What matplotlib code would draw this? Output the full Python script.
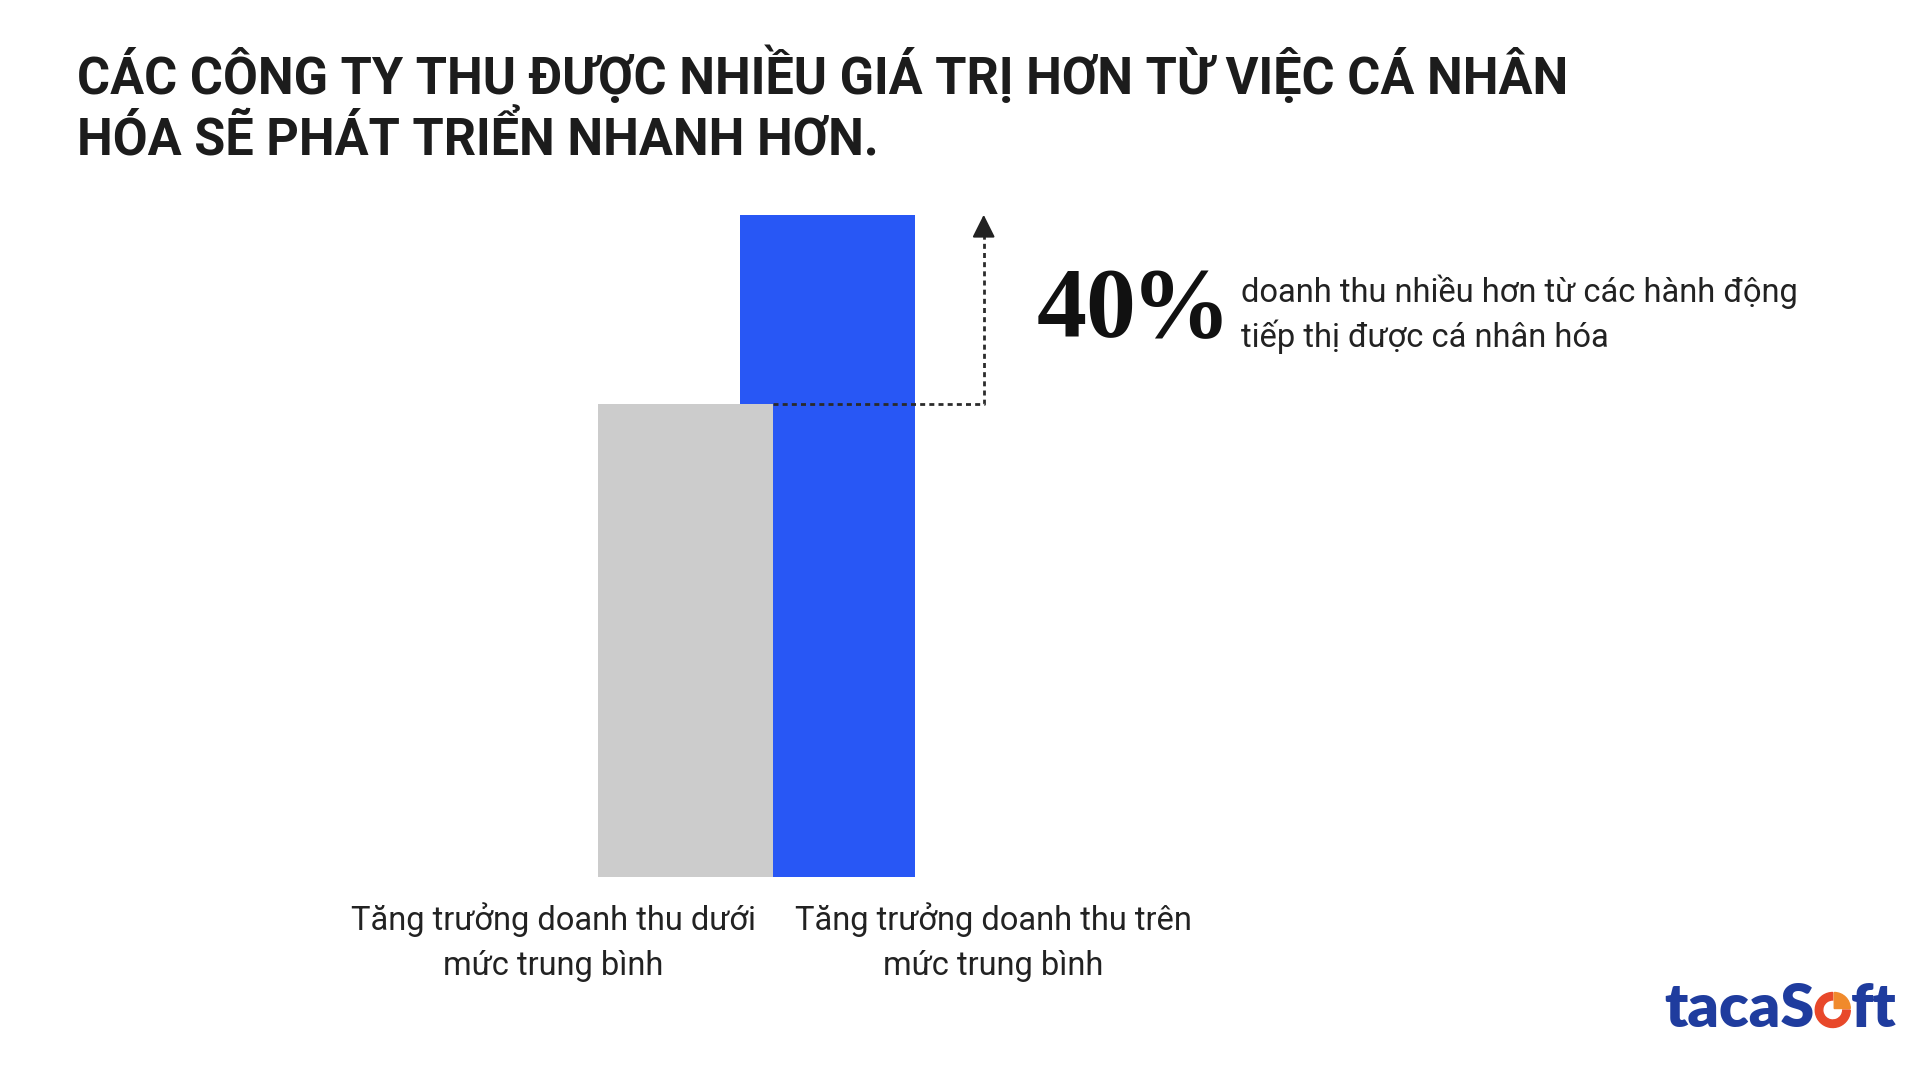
import matplotlib
matplotlib.use('Agg')
import matplotlib.pyplot as plt
from matplotlib.patches import Wedge

# ----- Donnees -----
title_lines = ['CÁC CÔNG TY THU ĐƯỢC NHIỀU GIÁ TRỊ HƠN TỪ VIỆC CÁ NHÂN',
               'HÓA SẼ PHÁT TRIỂN NHANH HƠN.']
categories = [['Tăng trưởng doanh thu dưới', 'mức trung bình'],
              ['Tăng trưởng doanh thu trên', 'mức trung bình']]
values = [100, 140]
bar_colors = ['#cccccc', '#2857f5']
uplift_num = '40'
uplift_text = ['doanh thu nhiều hơn từ các hành động',
               'tiếp thị được cá nhân hóa']

W, H = 1920, 1080


def fx(px):
    return px / W


def fy(py):
    return 1 - py / H


fig = plt.figure(figsize=(19.2, 10.8), dpi=100)
fig.patch.set_facecolor('white')

# ----- Barres -----
# 142 px par unite en x, 4.73 px par unite en y
ax = fig.add_axes([fx(543.5), fy(877), 568 / W, 709.5 / H])
ax.set_xlim(-1, 3)
ax.set_ylim(0, 150)
ax.axis('off')

bar_w = 1.232
for i, (v, c) in enumerate(zip(values, bar_colors)):
    ax.bar(i, v, width=bar_w, color=c, zorder=3 - i)

# fleche pointillee entre les deux niveaux
x_arrow = 2.10
ax.plot([bar_w / 2, x_arrow, x_arrow], [values[0], values[0], values[1] - 3],
        color='#2b2b2b', lw=2, ls=(0, (1.8, 1.5)), zorder=5, clip_on=False)
ax.annotate('', xy=(x_arrow, values[1]), xytext=(x_arrow, values[1] - 4),
            arrowprops=dict(arrowstyle='-|>,head_length=0.7,head_width=0.35',
                            mutation_scale=20, color='#222222', lw=1.5,
                            shrinkA=0, shrinkB=0),
            zorder=6, annotation_clip=False)

# ----- Textes -----
for line, yb in zip(title_lines, [94, 155]):
    fig.text(fx(77), fy(yb), line, family='Roboto', weight='bold',
             fontsize=36.4, color='#1c1c1c', ha='left', va='baseline')

fig.canvas.draw()
rend = fig.canvas.get_renderer()

t40 = fig.text(fx(1037), fy(336), uplift_num, family='Liberation Serif',
               weight='bold', fontsize=72, color='#111111', ha='left',
               va='baseline')
bb40 = t40.get_window_extent(rend)
fig.text((bb40.x1 - 6) / W, fy(336), '%', family='Liberation Serif',
         weight='bold', fontsize=72, color='#111111', ha='left',
         va='baseline')

for line, yb in zip(uplift_text, [302, 347]):
    fig.text(fx(1241), fy(yb), line, family='Roboto', fontsize=23.5,
             color='#222222', ha='left', va='baseline')

for (l1, l2), xc in zip(categories, [553, 993]):
    fig.text(fx(xc), fy(930), l1, family='Roboto', fontsize=23.5,
             color='#222222', ha='center', va='baseline')
    fig.text(fx(xc), fy(975), l2, family='Roboto', fontsize=23.5,
             color='#222222', ha='center', va='baseline')

# ----- Logo -----
logo_blue = '#1f3c9e'
lax = fig.add_axes([0, 0, 1, 1])
lax.set_xlim(0, W)
lax.set_ylim(0, H)
lax.axis('off')
base = H - 1027
t1 = lax.text(1664, base, 'tacaS', family='Lato', weight='heavy',
              fontsize=44, color=logo_blue, ha='left', va='baseline')
bb = t1.get_window_extent(rend)
r = 17.5
cx = bb.x1 + r + 1
cy = base + r - 0.5
lax.add_patch(Wedge((cx, cy), r, 90, 360, width=7.5, color='#e8482a'))
lax.add_patch(Wedge((cx + 1.5, cy + 1.5), r - 1.5, 0, 90, color='#f08a2c'))
lax.text(cx + r + 1, base, 'ft', family='Lato', weight='heavy',
         fontsize=44, color=logo_blue, ha='left', va='baseline')

fig.savefig('out.png', dpi=100)
